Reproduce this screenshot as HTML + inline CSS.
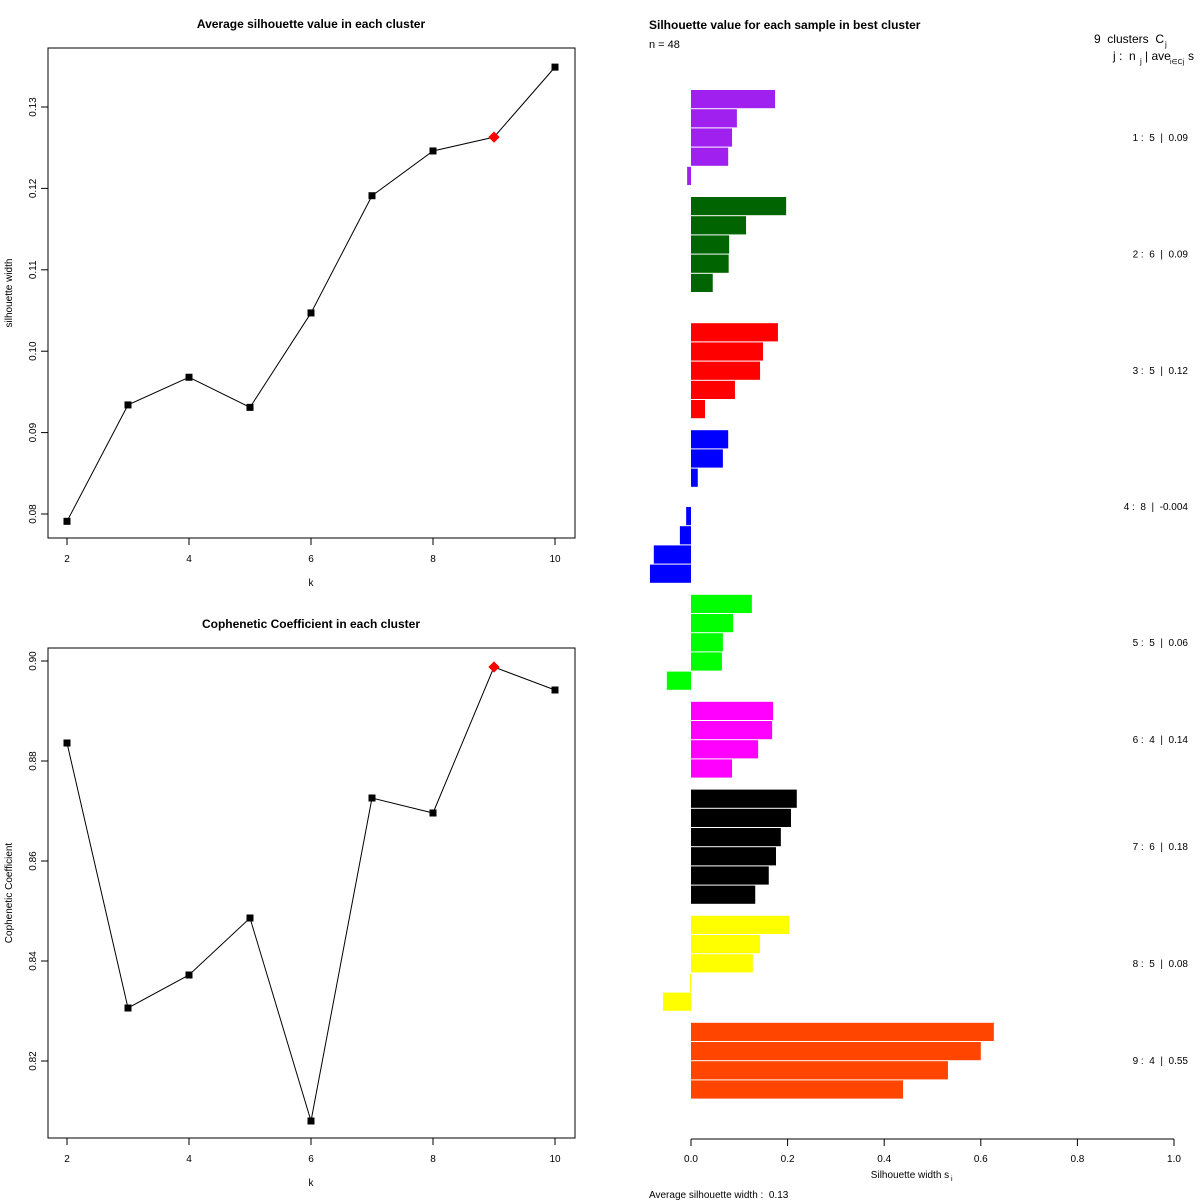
<!DOCTYPE html>
<html><head><meta charset="utf-8"><style>
body{margin:0;background:#fff}
svg{font-family:"Liberation Sans",Arial,sans-serif;display:block}
svg text{white-space:pre}
</style></head><body>
<svg id="chart" width="1200" height="1200" viewBox="0 0 1200 1200">
<rect width="1200" height="1200" fill="#fff"/>
<g id="top"></g>
<g id="bot"></g>
<g id="sil"></g>
</svg>
<script>
const ks = [2,3,4,5,6,7,8,9,10];
const silAvg = [0.0791,0.0934,0.0968,0.0931,0.1047,0.1191,0.1246,0.1263,0.1349];
const coph = [0.8836,0.8306,0.8372,0.8486,0.8080,0.8726,0.8696,0.8988,0.8942];
const bestK = 9;
const silTicks = [0.08,0.09,0.10,0.11,0.12,0.13];
const cophTicks = [0.82,0.84,0.86,0.88,0.90];
const kTicks = [2,4,6,8,10];

const clusterColors = ["#A020F0","#006400","#FF0000","#0000FF","#00FF00","#FF00FF","#000000","#FFFF00","#FF4500"];
const clusterVals = [
 [0.174,0.095,0.085,0.077,-0.008],
 [0.197,0.114,0.079,0.078,0.045,0.0],
 [0.180,0.149,0.143,0.091,0.029],
 [0.077,0.066,0.014,0.0,-0.010,-0.023,-0.077,-0.085],
 [0.126,0.087,0.066,0.064,-0.050],
 [0.170,0.168,0.139,0.085],
 [0.219,0.207,0.186,0.176,0.161,0.133],
 [0.203,0.143,0.128,-0.002,-0.058],
 [0.627,0.600,0.532,0.439]
];
const clusterLabels = ["1 :  5  |  0.09","2 :  6  |  0.09","3 :  5  |  0.12","4 :  8  |  -0.004","5 :  5  |  0.06","6 :  4  |  0.14","7 :  6  |  0.18","8 :  5  |  0.08","9 :  4  |  0.55"];
const silXTicks = [0,0.2,0.4,0.6,0.8,1.0];
const silXTickLabels = ["0.0","0.2","0.4","0.6","0.8","1.0"];

const NS="http://www.w3.org/2000/svg";
function mk(parent,tag,attrs,text){const e=document.createElementNS(NS,tag);for(const k in attrs)e.setAttribute(k,attrs[k]);if(text!==undefined)e.textContent=text;parent.appendChild(e);return e;}

function linePanel(g,vals,ticks,y0v,y0p,y1v,y1p,box,title,ylab,tickFmt,tickName){
  const kx=k=>67+(k-2)*(555-67)/8;
  const vy=v=>y0p+(v-y0v)*(y1p-y0p)/(y1v-y0v);
  let e=mk(g,'rect',{x:48,y:box[0],width:527,height:box[1]-box[0],fill:'none',stroke:'#000','stroke-width':1});
  
  
  e=mk(g,'text',{x:311,y:box[0]-20,'text-anchor':'middle','font-size':12,'font-weight':'bold'},title);
  
  
  kTicks.forEach(k=>{
    mk(g,'line',{x1:kx(k),x2:kx(k),y1:box[1],y2:box[1]+7,stroke:'#000'});
    e=mk(g,'text',{x:kx(k),y:box[1]+24,'text-anchor':'middle','font-size':10},String(k));
    
    
  });
  e=mk(g,'text',{x:311,y:box[1]+48,'text-anchor':'middle','font-size':10},'k');
  
  
  ticks.forEach(t=>{
    const y=vy(t);
    mk(g,'line',{x1:41,x2:48,y1:y,y2:y,stroke:'#000'});
    e=mk(g,'text',{x:0,y:0,'text-anchor':'middle','font-size':10,transform:`translate(36,${y}) rotate(-90)`},tickFmt(t));
    
    
  });
  e=mk(g,'text',{x:0,y:0,'text-anchor':'middle','font-size':10,transform:`translate(12,${(box[0]+box[1])/2}) rotate(-90)`},ylab);
  
  
  const pts=ks.map((k,i)=>kx(k)+','+vy(vals[i])).join(' ');
  e=mk(g,'polyline',{points:pts,fill:'none',stroke:'#000','stroke-width':1});
  
  
  ks.forEach((k,i)=>{
    const x=kx(k),y=vy(vals[i]);
    if(k===bestK){
      e=mk(g,'rect',{x:x-4,y:y-4,width:8,height:8,fill:'#FF0000',transform:`rotate(45 ${x} ${y})`});
      
    } else {
      e=mk(g,'rect',{x:x-3.5,y:y-3.5,width:7,height:7,fill:'#000'});
      
    }
    
  });
}
linePanel(document.getElementById('top'),silAvg,silTicks,0.08,514,0.13,107,[48,538],'Average silhouette value in each cluster','silhouette width',t=>t.toFixed(2),'y-tick-label');
linePanel(document.getElementById('bot'),coph,cophTicks,0.82,1061,0.90,661,[648,1138],'Cophenetic Coefficient in each cluster','Cophenetic Coefficient',t=>t.toFixed(2),'y-tick-label');

const s=document.getElementById('sil');
const sx=v=>691+v*483;
let e;
e=mk(s,'text',{x:649,y:29,'font-size':12,'font-weight':'bold'},'Silhouette value for each sample in best cluster');


e=mk(s,'text',{x:649,y:48,'font-size':11},'n = 48');


e=mk(s,'text',{x:1164,y:43,'font-size':12,'text-anchor':'end'},'9  clusters  C');


mk(s,'text',{x:1165,y:47,'font-size':8},'j');
e=mk(s,'text',{x:1113,y:60,'font-size':12},'j :  n');


mk(s,'text',{x:1140,y:64,'font-size':8},'j');
mk(s,'text',{x:1145,y:60,'font-size':12},'| ave');
mk(s,'text',{x:1170,y:64,'font-size':7},'i∈Cj');
mk(s,'text',{x:1188,y:60,'font-size':12},'s');
let y=90;const slot=19.2,gap=11;
clusterVals.forEach((vals,ci)=>{
  const y0=y;
  vals.forEach(v=>{
    const x1=Math.min(sx(0),sx(v)),w=Math.abs(sx(v)-sx(0));
    if(v!==0){
      e=mk(s,'rect',{x:x1,y:y,width:Math.max(w,0.6),height:slot-1,fill:clusterColors[ci]});
      
      
    }
    y+=slot;
  });
  e=mk(s,'text',{x:1188,y:(y0+y)/2+3,'text-anchor':'end','font-size':10},clusterLabels[ci]);
  
  
  y+=gap;
});
mk(s,'line',{x1:sx(0),x2:sx(1),y1:1139,y2:1139,stroke:'#000'});
silXTicks.forEach((t,i)=>{
  mk(s,'line',{x1:sx(t),x2:sx(t),y1:1139,y2:1146,stroke:'#000'});
  e=mk(s,'text',{x:sx(t),y:1162,'text-anchor':'middle','font-size':10},silXTickLabels[i]);
  
  
});
e=mk(s,'text',{x:910,y:1178,'text-anchor':'middle','font-size':10},'Silhouette width s');


mk(s,'text',{x:951,y:1181,'font-size':7},'i');
e=mk(s,'text',{x:649,y:1198,'font-size':10},'Average silhouette width :  0.13');


</script>
</body></html>
